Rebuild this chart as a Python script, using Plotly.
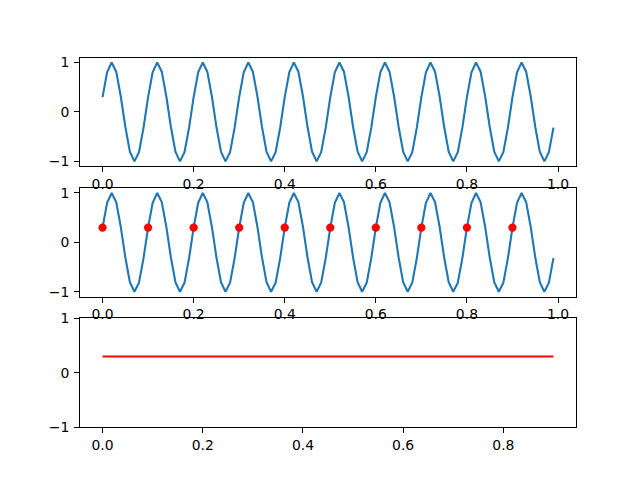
import plotly.graph_objects as go

t = [
    0.00, 0.01, 0.02, 0.03, 0.04, 0.05, 0.06, 0.07, 0.08, 0.09,
    0.10, 0.11, 0.12, 0.13, 0.14, 0.15, 0.16, 0.17, 0.18, 0.19,
    0.20, 0.21, 0.22, 0.23, 0.24, 0.25, 0.26, 0.27, 0.28, 0.29,
    0.30, 0.31, 0.32, 0.33, 0.34, 0.35, 0.36, 0.37, 0.38, 0.39,
    0.40, 0.41, 0.42, 0.43, 0.44, 0.45, 0.46, 0.47, 0.48, 0.49,
    0.50, 0.51, 0.52, 0.53, 0.54, 0.55, 0.56, 0.57, 0.58, 0.59,
    0.60, 0.61, 0.62, 0.63, 0.64, 0.65, 0.66, 0.67, 0.68, 0.69,
    0.70, 0.71, 0.72, 0.73, 0.74, 0.75, 0.76, 0.77, 0.78, 0.79,
    0.80, 0.81, 0.82, 0.83, 0.84, 0.85, 0.86, 0.87, 0.88, 0.89,
    0.90, 0.91, 0.92, 0.93, 0.94, 0.95, 0.96, 0.97, 0.98, 0.99,
]
signal = [
    0.300, 0.803, 1.000, 0.815, 0.318, -0.300, -0.803, -1.000, -0.815, -0.318,
    0.300, 0.803, 1.000, 0.815, 0.318, -0.300, -0.803, -1.000, -0.815, -0.318,
    0.300, 0.803, 1.000, 0.815, 0.318, -0.300, -0.803, -1.000, -0.815, -0.318,
    0.300, 0.803, 1.000, 0.815, 0.318, -0.300, -0.803, -1.000, -0.815, -0.318,
    0.300, 0.803, 1.000, 0.815, 0.318, -0.300, -0.803, -1.000, -0.815, -0.318,
    0.300, 0.803, 1.000, 0.815, 0.318, -0.300, -0.803, -1.000, -0.815, -0.318,
    0.300, 0.803, 1.000, 0.815, 0.318, -0.300, -0.803, -1.000, -0.815, -0.318,
    0.300, 0.803, 1.000, 0.815, 0.318, -0.300, -0.803, -1.000, -0.815, -0.318,
    0.300, 0.803, 1.000, 0.815, 0.318, -0.300, -0.803, -1.000, -0.815, -0.318,
    0.300, 0.803, 1.000, 0.815, 0.318, -0.300, -0.803, -1.000, -0.815, -0.318,
]
# Samples taken every 0.1 s
sample_t = [0.0, 0.1, 0.2, 0.3, 0.4, 0.5, 0.6, 0.7, 0.8, 0.9]
sample_v = [0.3, 0.3, 0.3, 0.3, 0.3, 0.3, 0.3, 0.3, 0.3, 0.3]

BLUE = "#1f77b4"
RED = "#ff0000"

fig = go.Figure()
fig.add_trace(go.Scatter(x=t, y=signal, mode="lines", line=dict(color=BLUE, width=2.1),
                         xaxis="x", yaxis="y"))
fig.add_trace(go.Scatter(x=t, y=signal, mode="lines", line=dict(color=BLUE, width=2.1),
                         xaxis="x2", yaxis="y2"))
fig.add_trace(go.Scatter(x=sample_t, y=sample_v, mode="markers",
                         marker=dict(color=RED, size=8.3, line=dict(width=0)),
                         xaxis="x2", yaxis="y2"))
fig.add_trace(go.Scatter(x=sample_t, y=sample_v, mode="lines", line=dict(color=RED, width=2.1),
                         xaxis="x3", yaxis="y3"))

# The page body adds an 8px offset; compensate in the domains
W, H, OFF = 640.0, 480.0, 8.0
dx = OFF / W
dy = OFF / H
h = 0.77 / 3.4
gap = 0.2 * h
d_x = [0.125 - dx, 0.9 - dx]
d_bot = [0.11 + dy, 0.11 + h + dy]
d_mid = [0.11 + h + gap + dy, 0.11 + 2 * h + gap + dy]
d_top = [0.11 + 2 * h + 2 * gap + dy, 0.88 + dy]

axis_common = dict(
    showline=True, linecolor="black", linewidth=1.1, mirror=True,
    ticks="outside", ticklen=4.9, tickwidth=1.1, tickcolor="black",
    showgrid=False, zeroline=False, automargin=False,
    tickfont=dict(family="DejaVu Sans", size=13.9, color="black"),
)
yaxis_extra = dict(ticklabelstandoff=2)

fig.update_layout(
    width=640, height=480,
    margin=dict(l=0, r=0, t=0, b=0),
    paper_bgcolor="white", plot_bgcolor="white",
    showlegend=False,
    xaxis=dict(domain=d_x, anchor="y", range=[-0.0495, 1.0395],
               tickvals=[0, 0.2, 0.4, 0.6, 0.8, 1.0], tickformat=".1f", **axis_common),
    yaxis=dict(domain=d_top, anchor="x", range=[-1.1, 1.1],
               tickvals=[-1, 0, 1], **axis_common, **yaxis_extra),
    xaxis2=dict(domain=d_x, anchor="y2", range=[-0.0495, 1.0395],
                tickvals=[0, 0.2, 0.4, 0.6, 0.8, 1.0], tickformat=".1f", **axis_common),
    yaxis2=dict(domain=d_mid, anchor="x2", range=[-1.1, 1.1],
                tickvals=[-1, 0, 1], **axis_common, **yaxis_extra),
    xaxis3=dict(domain=d_x, anchor="y3", range=[-0.045, 0.945],
                tickvals=[0, 0.2, 0.4, 0.6, 0.8], tickformat=".1f", **axis_common),
    yaxis3=dict(domain=d_bot, anchor="x3", range=[-1, 1],
                tickvals=[-1, 0, 1], **axis_common, **yaxis_extra),
)

fig.write_html("out.html")
